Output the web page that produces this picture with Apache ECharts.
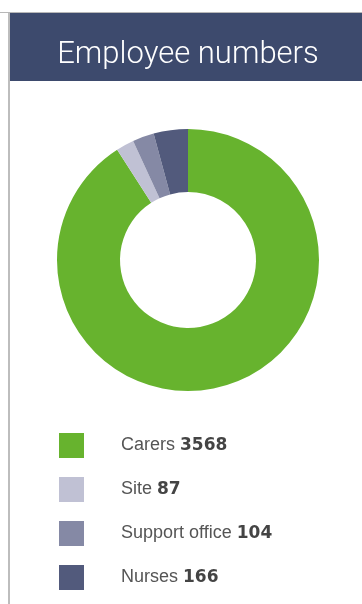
<!DOCTYPE html>
<html><head><meta charset="utf-8">
<script src="https://cdn.jsdelivr.net/npm/echarts@6/dist/echarts.min.js"></script>
<style>html,body{margin:0;padding:0;background:#fff}#c{width:362px;height:604px}</style>
</head><body><div id="c"></div>
<script>
const title = 'Employee numbers';
const categories = ['Carers', 'Site', 'Support office', 'Nurses'];
const values = [3568, 87, 104, 166];
const colors = ['#67b32e', '#c0c1d4', '#8589a5', '#525a7c'];

const chart = echarts.init(document.getElementById('c'), null, {renderer: 'canvas'});
const valueOf = {};
categories.forEach((c, i) => valueOf[c] = values[i]);

chart.setOption({
  animation: false,
  color: colors,
  graphic: [
    {type: 'rect', shape: {x: 0, y: 12, width: 362, height: 1}, style: {fill: '#b8b8b8'}},
    {type: 'rect', shape: {x: 8, y: 13, width: 354, height: 68}, style: {fill: '#3d4a6d'}},
    {type: 'rect', shape: {x: 8, y: 13, width: 2, height: 591}, style: {fill: '#bdbdbd'}},
    {type: 'text', x: 188, y: 55, style: {text: title, fill: '#ffffff', font: '300 31px Roboto, "Liberation Sans", sans-serif', textAlign: 'center', textVerticalAlign: 'middle'}}
  ],
  legend: {
    orient: 'vertical',
    left: 59,
    top: 433,
    padding: 0,
    itemWidth: 25,
    itemHeight: 25,
    itemGap: 19,
    icon: 'rect',
    selectedMode: false,
    data: categories,
    formatter: name => '{n|' + name + ' }{v|' + valueOf[name] + '}',
    textStyle: {
      padding: [0, 0, 0, 32],
      rich: {
        n: {fontSize: 18, color: '#555555', fontFamily: '"Liberation Sans", Arial, sans-serif'},
        v: {fontSize: 17, fontWeight: 'bold', color: '#444444', fontFamily: '"DejaVu Sans", sans-serif'}
      }
    }
  },
  series: [{
    type: 'pie',
    center: [188, 260],
    radius: [68, 131],
    startAngle: 90,
    clockwise: true,
    label: {show: false},
    labelLine: {show: false},
    emphasis: {disabled: true},
    itemStyle: {borderWidth: 0},
    data: categories.map((c, i) => ({name: c, value: values[i]}))
  }]
});
</script></body></html>
